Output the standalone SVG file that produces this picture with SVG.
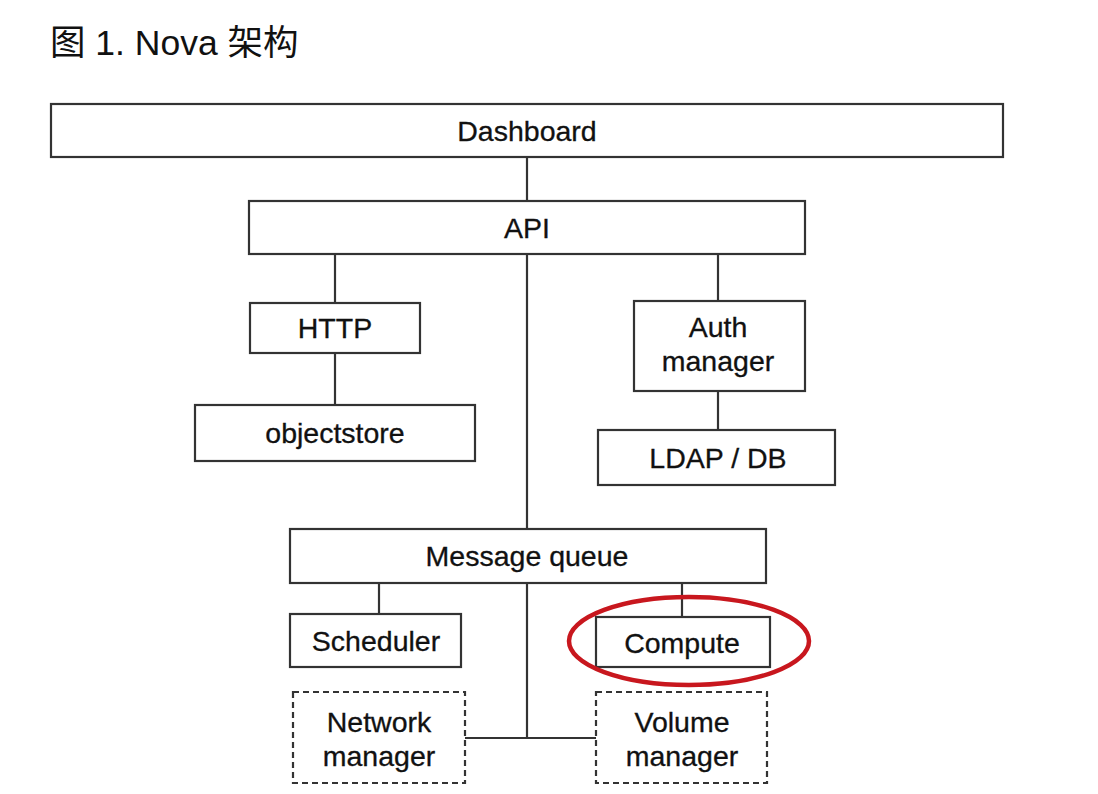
<svg xmlns="http://www.w3.org/2000/svg" width="1098" height="794" viewBox="0 0 1098 794">
<style>
.box{fill:#fff;stroke:#333;stroke-width:2.2}
.dash{fill:#fff;stroke:#333;stroke-width:2.2;stroke-dasharray:6 4}
.lbl{font-family:"Liberation Sans",Arial,sans-serif;font-size:28.5px;fill:#111;stroke:#111;stroke-width:0.3;text-anchor:middle}
.ttl{font-family:"Liberation Sans","Noto Sans CJK SC",sans-serif;font-size:35.5px;fill:#111}
.conn line{stroke:#333;stroke-width:2.2}
</style>
<rect width="1098" height="794" fill="#fff"/>
<text class="ttl" x="50" y="55">图 1. Nova 架构</text>
<g id="connectors" class="conn">
<line x1="527" y1="157" x2="527" y2="201"/>
<line x1="527" y1="254" x2="527" y2="529"/>
<line x1="335" y1="254" x2="335" y2="303"/>
<line x1="335" y1="353" x2="335" y2="405"/>
<line x1="718" y1="254" x2="718" y2="301"/>
<line x1="718" y1="391" x2="718" y2="430"/>
<line x1="379" y1="583" x2="379" y2="614"/>
<line x1="682" y1="583" x2="682" y2="617"/>
<line x1="527" y1="583" x2="527" y2="738"/>
<line x1="465" y1="738" x2="596" y2="738"/>
</g>
<g id="dashboard"><rect class="box" x="51" y="104" width="952" height="53"/><text class="lbl" x="527" y="141">Dashboard</text></g>
<g id="api"><rect class="box" x="249" y="201" width="556" height="53"/><text class="lbl" x="527" y="238">API</text></g>
<g id="http"><rect class="box" x="250" y="303" width="170" height="50"/><text class="lbl" x="335" y="338">HTTP</text></g>
<g id="objectstore"><rect class="box" x="195" y="405" width="280" height="56"/><text class="lbl" x="335" y="443">objectstore</text></g>
<g id="auth"><rect class="box" x="634" y="301" width="171" height="90"/><text class="lbl" x="718" y="337">Auth</text><text class="lbl" x="718" y="371">manager</text></g>
<g id="ldap"><rect class="box" x="598" y="430" width="237" height="55"/><text class="lbl" x="718" y="468">LDAP / DB</text></g>
<g id="mq"><rect class="box" x="290" y="529" width="476" height="54"/><text class="lbl" x="527" y="566">Message queue</text></g>
<g id="scheduler"><rect class="box" x="290" y="614" width="171" height="53"/><text class="lbl" x="376" y="651">Scheduler</text></g>
<g id="compute"><rect class="box" x="596" y="617" width="174" height="50"/><text class="lbl" x="682" y="653">Compute</text>
<ellipse cx="689" cy="641" rx="120" ry="44" fill="none" stroke="#c8171e" stroke-width="4.5"/></g>
<g id="network"><rect class="dash" x="293" y="692" width="172" height="91"/><text class="lbl" x="379" y="732">Network</text><text class="lbl" x="379" y="766">manager</text></g>
<g id="volume"><rect class="dash" x="596" y="692" width="171" height="91"/><text class="lbl" x="682" y="732">Volume</text><text class="lbl" x="682" y="766">manager</text></g>
</svg>
